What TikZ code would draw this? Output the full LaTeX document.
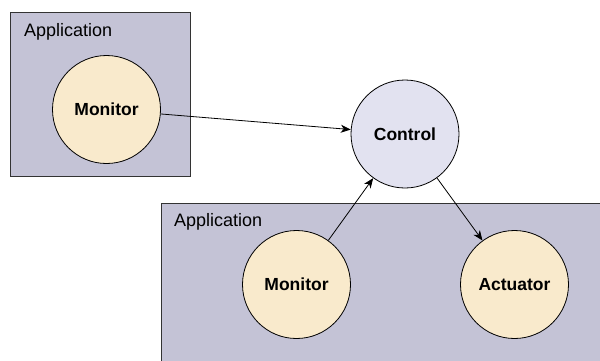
\documentclass[tikz,border=0pt]{standalone}
\usepackage{fontspec}
\setmainfont{Liberation Sans}
\usetikzlibrary{arrows.meta}
\definecolor{appfill}{RGB}{196,195,214}
\definecolor{compfill}{RGB}{249,234,204}
\definecolor{ctrlfill}{RGB}{226,226,240}
\tikzset{
  appbox/.style={draw=black!80, fill=appfill, line width=0.8pt},
  applabel/.style={anchor=base west, inner sep=0pt, font=\fontsize{18}{20}\selectfont},
  comp/.style={circle, draw=black, line width=0.8pt, fill=compfill, minimum size=108pt, inner sep=0pt,
    font=\fontsize{17.5}{20}\selectfont\bfseries},
  ctrl/.style={comp, fill=ctrlfill},
  flow/.style={draw=black, line width=0.8pt, -{Stealth[length=10pt,width=8pt,inset=3pt]}}
}
\begin{document}
\begin{tikzpicture}[x=1pt,y=-1pt]
  \useasboundingbox (0,0) rectangle (600,360);
  % application containers
  \path[appbox] (10,12) rectangle (190,176);
  \path[appbox] (161,203) rectangle (606,366);
  \node[applabel] (app1) at (24,36) {Application};
  \node[applabel] (app2) at (174,226) {Application};
  % components
  \node[comp] (mon1) at (106.5,109.5) {Monitor};
  \node[ctrl] (ctl) at (405,134) {Control};
  \node[comp] (mon2) at (296.5,284.5) {Monitor};
  \node[comp] (act) at (514.5,284.5) {Actuator};
  % flows
  \draw[flow] (mon1) -- (ctl);
  \draw[flow] (mon2) -- (ctl);
  \draw[flow] (ctl) -- (act);
\end{tikzpicture}
\end{document}
